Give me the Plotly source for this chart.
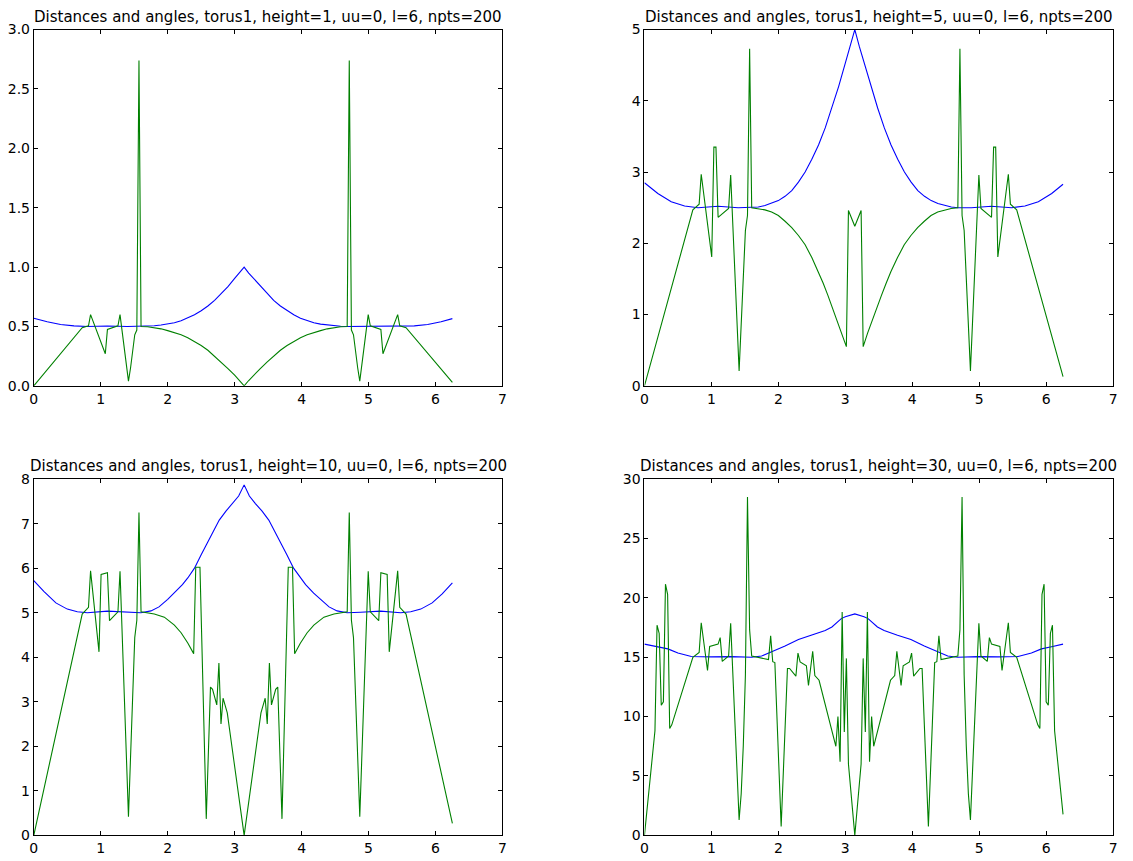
import plotly.graph_objects as go

# ---------------- data ----------------
titles = [
    "Distances and angles, torus1, height=1, uu=0, l=6, npts=200",
    "Distances and angles, torus1, height=5, uu=0, l=6, npts=200",
    "Distances and angles, torus1, height=10, uu=0, l=6, npts=200",
    "Distances and angles, torus1, height=30, uu=0, l=6, npts=200",
]

# panel 1 (height=1)
b1_x = [0, 0.2, 0.4, 0.6, 0.8, 1.1, 1.4, 1.6, 1.7, 1.8, 1.9, 2.0, 2.1, 2.2, 2.3, 2.4, 2.5, 2.6, 2.7, 2.8,
        2.9, 3.0, 3.07, 3.142, 3.21, 3.283, 3.383, 3.483, 3.583, 3.683, 3.783, 3.883, 3.983, 4.083, 4.183,
        4.283, 4.383, 4.483, 4.583, 4.683, 4.883, 5.183, 5.483, 5.683, 5.883, 6.083, 6.252]
b1_y = [0.57, 0.54, 0.517, 0.505, 0.50, 0.504, 0.50, 0.50, 0.502, 0.506, 0.512, 0.52, 0.532, 0.548, 0.57,
        0.598, 0.632, 0.672, 0.72, 0.775, 0.835, 0.905, 0.95, 1.0, 0.95, 0.905, 0.835, 0.775, 0.72, 0.672,
        0.632, 0.598, 0.57, 0.548, 0.532, 0.52, 0.512, 0.506, 0.502, 0.50, 0.50, 0.504, 0.50, 0.505, 0.517,
        0.54, 0.566]
g1_x = [0.0, 0.723, 0.817, 0.848, 1.068, 1.100, 1.257, 1.288, 1.414, 1.445, 1.508, 1.539, 1.571, 1.602,
        1.70, 1.80, 1.90, 2.00, 2.10, 2.20, 2.30, 2.40, 2.50, 2.60, 2.70, 2.80, 2.90, 3.00, 3.07, 3.142,
        3.21, 3.283, 3.383, 3.483, 3.583, 3.683, 3.783, 3.883, 3.983, 4.083, 4.183, 4.283, 4.383, 4.483,
        4.583, 4.681, 4.712, 4.744, 4.775, 4.838, 4.869, 4.995, 5.026, 5.184, 5.215, 5.435, 5.466, 5.560,
        6.252]
g1_y = [0.0, 0.49, 0.505, 0.60, 0.27, 0.475, 0.505, 0.60, 0.04, 0.15, 0.43, 0.47, 2.74, 0.50,
        0.497, 0.49, 0.48, 0.465, 0.45, 0.43, 0.405, 0.375, 0.34, 0.30, 0.25, 0.20, 0.145, 0.09, 0.045, 0.0,
        0.045, 0.09, 0.145, 0.20, 0.25, 0.30, 0.34, 0.375, 0.405, 0.43, 0.45, 0.465, 0.48, 0.49,
        0.497, 0.50, 2.74, 0.47, 0.43, 0.15, 0.04, 0.60, 0.505, 0.475, 0.27, 0.60, 0.505, 0.49,
        0.03]

# panel 2 (height=5)
b2_x = b1_x
b2_y = [2.85, 2.70, 2.585, 2.525, 2.50, 2.52, 2.50, 2.50, 2.51, 2.53, 2.56, 2.60, 2.66, 2.74, 2.86,
        3.0, 3.18, 3.38, 3.62, 3.9, 4.2, 4.53, 4.76, 5.0, 4.76, 4.53, 4.2, 3.9, 3.62, 3.38,
        3.18, 3.0, 2.86, 2.74, 2.66, 2.60, 2.56, 2.53, 2.51, 2.50, 2.50, 2.52, 2.50, 2.525, 2.585,
        2.70, 2.83]
g2_x = [0.0, 0.723, 0.817, 0.848, 1.005, 1.037, 1.068, 1.100, 1.257, 1.288, 1.414, 1.508, 1.539, 1.571, 1.602,
        1.70, 1.80, 1.90, 2.00, 2.10, 2.20, 2.30, 2.40, 2.50, 2.60, 2.67, 2.74, 2.81, 2.88, 2.95, 3.016,
        3.047, 3.142, 3.236, 3.267, 3.333, 3.40, 3.47, 3.54, 3.61, 3.68, 3.78, 3.88, 3.98, 4.08, 4.18,
        4.28, 4.38, 4.48, 4.58, 4.681, 4.712, 4.744, 4.775, 4.869, 4.995, 5.026, 5.184, 5.215, 5.246,
        5.278, 5.435, 5.466, 5.560, 6.252]
g2_y = [0.0, 2.47, 2.55, 2.97, 1.81, 3.35, 3.35, 2.365, 2.49, 2.96, 0.21, 2.18, 2.39, 4.73, 2.50,
        2.49, 2.47, 2.44, 2.39, 2.31, 2.22, 2.11, 1.98, 1.80, 1.60, 1.44, 1.27, 1.09, 0.92, 0.74, 0.55,
        2.46, 2.24, 2.46, 0.55, 0.74, 0.92, 1.09, 1.27, 1.44, 1.60, 1.80, 1.98, 2.11, 2.22, 2.31,
        2.39, 2.44, 2.47, 2.49, 2.50, 4.73, 2.39, 2.18, 0.21, 2.96, 2.49, 2.365, 3.35, 3.35,
        1.81, 2.97, 2.55, 2.47, 0.13]

# panel 3 (height=10)
b3_x = [0, 0.15, 0.33, 0.5, 0.65, 0.8, 1.1, 1.4, 1.6, 1.75, 1.87, 2.0, 2.1, 2.22, 2.3, 2.4, 2.5, 2.6, 2.77,
        2.87, 2.97, 3.06, 3.142, 3.22, 3.31, 3.41, 3.51, 3.68, 3.78, 3.88, 3.98, 4.06, 4.18, 4.28, 4.41,
        4.53, 4.68, 4.88, 5.18, 5.48, 5.63, 5.78, 5.95, 6.1, 6.252]
b3_y = [5.72, 5.48, 5.22, 5.08, 5.02, 5.0, 5.035, 5.01, 5.0, 5.04, 5.13, 5.3, 5.44, 5.63, 5.78, 6.0, 6.3,
        6.6, 7.08, 7.28, 7.45, 7.62, 7.87, 7.62, 7.45, 7.28, 7.08, 6.6, 6.3, 6.0, 5.78, 5.63, 5.44, 5.3,
        5.13, 5.04, 5.0, 5.01, 5.035, 5.0, 5.02, 5.08, 5.22, 5.42, 5.67]
g3_x = [0.0, 0.723, 0.817, 0.848, 0.974, 1.005, 1.100, 1.131, 1.257, 1.288, 1.414, 1.508, 1.539, 1.571,
        1.602, 1.80, 1.95, 2.10, 2.20, 2.30, 2.388, 2.419, 2.482, 2.576, 2.639, 2.670, 2.733, 2.765,
        2.796, 2.827, 2.890, 3.142, 3.393, 3.456, 3.487, 3.519, 3.550, 3.613, 3.644, 3.707, 3.801,
        3.864, 3.896, 3.983, 4.083, 4.183, 4.333, 4.483, 4.681, 4.712, 4.744, 4.775, 4.869, 4.995,
        5.026, 5.152, 5.184, 5.278, 5.309, 5.435, 5.466, 5.560, 6.252]
g3_y = [0.0, 4.97, 5.12, 5.94, 4.12, 5.86, 5.90, 4.82, 5.02, 5.93, 0.42, 4.44, 4.83, 7.25,
        5.02, 4.97, 4.90, 4.72, 4.55, 4.32, 4.08, 6.02, 6.02, 0.37, 3.33, 3.28, 2.93, 3.87,
        2.50, 3.08, 2.75, 0.0, 2.75, 3.08, 2.50, 3.87, 2.93, 3.28, 3.33, 0.37, 6.02,
        6.02, 4.08, 4.32, 4.55, 4.72, 4.90, 4.97, 5.02, 7.25, 4.83, 4.44, 0.42, 5.93,
        5.02, 4.82, 5.90, 5.86, 4.12, 5.94, 5.12, 4.97, 0.27]

# panel 4 (height=30)
b4_x = [0, 0.2, 0.35, 0.5, 0.7, 1.0, 1.3, 1.6, 1.75, 1.9, 2.1, 2.3, 2.5, 2.7, 2.8, 2.94, 3.0, 3.142,
        3.28, 3.34, 3.48, 3.58, 3.78, 3.98, 4.18, 4.38, 4.53, 4.68, 4.98, 5.28, 5.58, 5.78, 5.93, 6.08, 6.252]
b4_y = [16.1, 15.88, 15.7, 15.35, 15.06, 15.03, 15.05, 15.0, 15.1, 15.47, 15.94, 16.5, 16.85, 17.25, 17.55,
        18.25, 18.4, 18.65, 18.4, 18.25, 17.55, 17.25, 16.85, 16.5, 15.94, 15.47, 15.1, 15.0, 15.05, 15.03,
        15.06, 15.35, 15.7, 15.88, 16.1]
g4_x = [0.000, 0.157, 0.188, 0.220, 0.251, 0.283, 0.314, 0.346, 0.377, 0.408, 0.723, 0.817, 0.848, 0.942,
        0.974, 1.100, 1.131, 1.162, 1.257, 1.288, 1.414, 1.445, 1.476, 1.508, 1.539, 1.571, 1.602, 1.853,
        1.885, 1.916, 1.948, 2.042, 2.136, 2.168, 2.262, 2.293, 2.325, 2.419, 2.450, 2.513, 2.545, 2.608,
        2.859, 2.890, 2.922, 2.953, 2.985, 3.016, 3.047, 3.142, 3.236, 3.267, 3.299, 3.330, 3.362, 3.393,
        3.424, 3.675, 3.738, 3.770, 3.833, 3.864, 3.958, 3.990, 4.021, 4.115, 4.147, 4.241, 4.335, 4.367,
        4.398, 4.430, 4.681, 4.712, 4.744, 4.775, 4.807, 4.838, 4.869, 4.995, 5.026, 5.121, 5.152, 5.184,
        5.309, 5.341, 5.435, 5.466, 5.560, 5.875, 5.906, 5.938, 5.969, 6.000, 6.032, 6.063, 6.094, 6.126,
        6.252]
g4_y = [0.0, 8.8, 17.7, 17.0, 10.95, 11.25, 21.15, 20.3, 9.0, 9.3, 14.98, 15.4, 17.9, 13.88,
        15.9, 16.1, 16.65, 14.65, 15.1, 17.85, 1.3, 3.5, 7.5, 13.5, 28.5, 17.3, 15.1, 14.8,
        16.8, 14.62, 14.55, 0.74, 14.05, 14.05, 13.4, 15.35, 14.6, 14.28, 12.62, 15.5, 13.45, 13.06,
        7.5, 10.0, 6.2, 18.8, 8.7, 14.9, 6.0, 0.0, 6.0, 14.9, 8.7, 18.8, 6.2, 10.0,
        7.5, 13.06, 13.45, 15.5, 12.62, 14.28, 14.6, 15.35, 13.4, 14.05, 14.05, 0.74, 14.55, 14.62,
        16.8, 14.8, 15.1, 17.3, 28.5, 13.5, 7.5, 3.5, 1.3, 17.85, 15.1, 14.65, 16.65, 16.1,
        15.9, 13.88, 17.9, 15.4, 14.98, 9.3, 9.0, 20.3, 21.15, 11.25, 10.95, 17.0, 17.7, 8.8,
        1.76]

y_ranges = [[0, 3], [0, 5], [0, 8], [0, 30]]
y_dticks = [0.5, 1, 1, 5]
y_formats = [".1f", "d", "d", "d"]

blue_x = [b1_x, b2_x, b3_x, b4_x]
blue_y = [b1_y, b2_y, b3_y, b4_y]
green_x = [g1_x, g2_x, g3_x, g4_x]
green_y = [g1_y, g2_y, g3_y, g4_y]

# ---------------- figure ----------------
W, H = 1133, 861
x_doms = [[30 / W, 502 / W], [645 / W, 1117 / W]]
y_doms = [[1 - 385 / H, 1 - 22 / H], [1 - 843 / H, 1 - 480 / H]]

fig = go.Figure()
font = "DejaVu Sans, Liberation Sans, sans-serif"

for i in range(4):
    r, c = divmod(i, 2)
    xa = "x" if i == 0 else f"x{i+1}"
    ya = "y" if i == 0 else f"y{i+1}"
    fig.add_trace(go.Scatter(x=blue_x[i], y=blue_y[i], mode="lines",
                             line=dict(color="#0000ff", width=1.1), xaxis=xa, yaxis=ya,
                             showlegend=False, hoverinfo="skip"))
    fig.add_trace(go.Scatter(x=green_x[i], y=green_y[i], mode="lines",
                             line=dict(color="#008000", width=1.1), xaxis=xa, yaxis=ya,
                             showlegend=False, hoverinfo="skip"))
    axcommon = dict(showline=True, linecolor="black", linewidth=1, mirror="ticks",
                    ticks="inside", ticklen=4, tickcolor="black", showgrid=False,
                    zeroline=False, tickfont=dict(family=font, size=14, color="black"))
    fig.layout[("xaxis" if i == 0 else f"xaxis{i+1}")] = dict(
        domain=x_doms[c], range=[0, 7], dtick=1, tick0=0, anchor=ya, **axcommon)
    fig.layout[("yaxis" if i == 0 else f"yaxis{i+1}")] = dict(
        domain=y_doms[r], range=y_ranges[i], dtick=y_dticks[i], tick0=0,
        tickformat=y_formats[i], anchor=xa, **axcommon)
    fig.add_annotation(text=titles[i], xref="paper", yref="paper",
                       x=(x_doms[c][0] + x_doms[c][1]) / 2, y=y_doms[r][1],
                       xanchor="center", yanchor="bottom", yshift=2, showarrow=False,
                       font=dict(family=font, size=15, color="black"))

fig.update_layout(width=W, height=H, autosize=False,
                  margin=dict(l=0, r=0, t=0, b=0),
                  paper_bgcolor="white", plot_bgcolor="white")

fig.write_html("out.html", config={"displayModeBar": False, "staticPlot": True},
               post_script="document.body.style.margin='0';document.body.style.overflow='hidden';")
